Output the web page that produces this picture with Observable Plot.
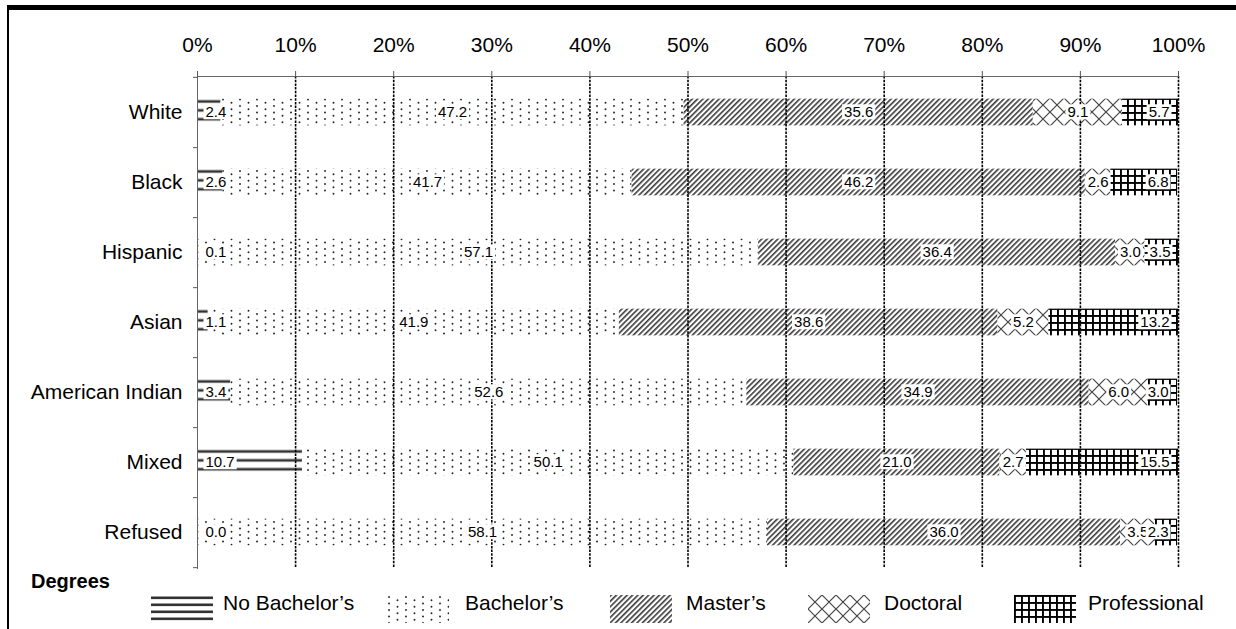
<!DOCTYPE html>
<html><head><meta charset="utf-8">
<script src="https://cdn.jsdelivr.net/npm/d3@7"></script>
<script src="https://cdn.jsdelivr.net/npm/@observablehq/plot@0.6"></script>
<style>
body{margin:0;background:#fff;font-family:"Liberation Sans",Arial,sans-serif;}
#wrap{position:relative;width:1236px;height:629px;overflow:hidden;background:#fff;}
#chart{position:absolute;left:0;top:0;}
#legend{position:absolute;left:0;top:570px;width:1236px;height:59px;}
#legend .title{position:absolute;left:31px;top:1px;font-size:20px;line-height:20px;font-weight:bold;}
#legend .sw{position:absolute;top:25px;width:62px;height:28px;}
#legend .lab{position:absolute;top:22px;font-size:21px;line-height:21px;white-space:nowrap;}
.bt{position:absolute;left:7px;top:5px;width:1229px;height:5px;background:#000;z-index:10;}
.bl{position:absolute;left:7px;top:5px;width:2px;height:624px;background:#000;z-index:10;}
</style></head><body>
<div id="wrap">
<svg width="0" height="0" style="position:absolute">
<defs>
<pattern id="pNB" patternUnits="objectBoundingBox" x="0" y="0" width="1" height="0.3333">
<rect x="0" y="0" width="3000" height="40" fill="#fff"/>
<rect x="0" y="1.5" width="3000" height="2.6" fill="#333"/>
</pattern>
<pattern id="pNBL" patternUnits="objectBoundingBox" x="0" y="0" width="1" height="0.25">
<rect x="0" y="0" width="3000" height="40" fill="#fff"/>
<rect x="0" y="1.5" width="3000" height="2.6" fill="#333"/>
</pattern>
<pattern id="pBA" patternUnits="userSpaceOnUse" width="17" height="13">
<rect width="17" height="13" fill="#fff"/>
<circle cx="2" cy="2" r="0.95" fill="#222"/>
<circle cx="2" cy="8.5" r="0.95" fill="#222"/>
<circle cx="10.5" cy="5.25" r="0.95" fill="#222"/>
<circle cx="10.5" cy="11.75" r="0.95" fill="#222"/>
</pattern>
<pattern id="pMA" patternUnits="userSpaceOnUse" width="3.8" height="3.8" patternTransform="rotate(45)">
<rect width="3.8" height="3.8" fill="#fff"/>
<rect x="0" y="0" width="1.6" height="3.8" fill="#3a3a3a"/>
</pattern>
<pattern id="pDO" patternUnits="userSpaceOnUse" width="14" height="14">
<rect width="14" height="14" fill="#fff"/>
<path d="M0,0L14,14M14,0L0,14M-1,13L1,15M13,-1L15,1" stroke="#444" stroke-width="1.2" fill="none"/>
</pattern>
<pattern id="pPR" patternUnits="userSpaceOnUse" width="7" height="7">
<rect width="7" height="7" fill="#fff"/>
<rect x="0" y="0" width="7" height="1.9" fill="#000"/>
<rect x="0" y="0" width="1.9" height="7" fill="#000"/>
</pattern>
</defs>
</svg>
<div id="chart"></div>
<div id="legend"></div>
<div class="bt"></div><div class="bl"></div>
</div>
<script>
const races = ["White", "Black", "Hispanic", "Asian", "American Indian", "Mixed", "Refused"];
const degrees = ["No Bachelor’s", "Bachelor’s", "Master’s", "Doctoral", "Professional"];
const noBachelors = [2.4, 2.6, 0.1, 1.1, 3.4, 10.7, 0.0];
const bachelors = [47.2, 41.7, 57.1, 41.9, 52.6, 50.1, 58.1];
const masters = [35.6, 46.2, 36.4, 38.6, 34.9, 21.0, 36.0];
const doctoral = [9.1, 2.6, 3.0, 5.2, 6.0, 2.7, 3.5];
const professional = [5.7, 6.8, 3.5, 13.2, 3.0, 15.5, 2.3];
const xTicks = [0, 10, 20, 30, 40, 50, 60, 70, 80, 90, 100];
const patternUrls = ["url(#pNB)", "url(#pBA)", "url(#pMA)", "url(#pDO)", "url(#pPR)"];
const legendUrls = ["url(#pNBL)", "url(#pBA)", "url(#pMA)", "url(#pDO)", "url(#pPR)"];

const series = [noBachelors, bachelors, masters, doctoral, professional];
const rows = [];
races.forEach((r, i) => {
  let s = 0;
  degrees.forEach((d, j) => {
    const v = series[j][i];
    rows.push({race: r, degree: d, value: v, start: s, end: s + v});
    s += v;
  });
});

const W = 1236, H = 570, mt = 76, mb = 2, ml = 197, mr = 58;
const bw = (H - mt - mb) / races.length;
const inset = (bw - 27) / 2;
const FONT = '"Liberation Sans", Arial, sans-serif';
const lab = d => d.value.toFixed(1);

const plot = Plot.plot({
  width: W, height: H,
  marginTop: mt, marginBottom: mb, marginLeft: ml, marginRight: mr,
  style: {fontFamily: FONT, fontSize: "14px", color: "#000", background: "transparent", overflow: "visible"},
  x: {domain: [0, 100]},
  y: {domain: races, padding: 0},
  color: {domain: degrees, range: patternUrls},
  marks: [
    Plot.barX(rows, Plot.stackX({x: "value", y: "race", fill: "degree", insetTop: inset, insetBottom: inset})),
    Plot.ruleX(xTicks.slice(1), {stroke: "#000", strokeWidth: 1.6, strokeDasharray: "2.5,1.2"}),
    Plot.frame({anchor: "top", stroke: "#666"}),
    Plot.frame({anchor: "left", stroke: "#666"}),
    Plot.axisX({anchor: "top", ticks: xTicks, tickFormat: d => d + "%", tickSize: 6, tickPadding: 19, fontSize: 21, stroke: "#555", fill: "#000", label: null}),
    Plot.axisY({anchor: "left", tickSize: 0, tickPadding: 15, fontSize: 21, fill: "#000", label: null}),
    Plot.axisY({anchor: "left", tickSize: 4, tickFormat: () => "", dy: bw / 2, stroke: "#555", label: null}),
    Plot.axisY({anchor: "left", ticks: [races[0]], tickSize: 4, tickFormat: () => "", dy: -bw / 2, stroke: "#555", label: null}),
    Plot.text(rows.filter(d => d.degree === degrees[0]), {x: "start", y: "race", text: lab, textAnchor: "start", dx: 8, fontSize: 15, fill: "#000"}),
    Plot.text(rows.filter(d => d.degree !== degrees[0] && d.degree !== degrees[4]), {x: d => (d.start + d.end) / 2, y: "race", text: lab, fontSize: 15, fill: "#000"}),
    Plot.text(rows.filter(d => d.degree === degrees[4]), {x: "end", y: "race", text: lab, textAnchor: "end", dx: -9, fontSize: 15, fill: "#000"})
  ]
});
document.getElementById("chart").appendChild(plot);

// white boxes behind the data labels
const NS = "http://www.w3.org/2000/svg";
const labelTexts = Array.from(plot.querySelectorAll("text")).filter(t => {
  const g = t.parentNode;
  const a = g && g.getAttribute ? (g.getAttribute("aria-label") || "") : "";
  return a === "text";
});
labelTexts.forEach(t => {
  const b = t.getBBox();
  const r = document.createElementNS(NS, "rect");
  r.setAttribute("x", b.x - 2);
  r.setAttribute("y", b.y + 1);
  r.setAttribute("width", b.width + 4);
  r.setAttribute("height", Math.max(0, b.height - 2));
  r.setAttribute("fill", "#fff");
  const tr = t.getAttribute("transform");
  if (tr) r.setAttribute("transform", tr);
  t.parentNode.insertBefore(r, t);
});

// legend
const legend = document.getElementById("legend");
const title = document.createElement("div");
title.className = "title";
title.textContent = "Degrees";
legend.appendChild(title);
const swX = [151, 387, 610, 808, 1014];
const labX = [223, 465, 686, 884, 1088];
degrees.forEach((d, j) => {
  const sw = document.createElementNS(NS, "svg");
  sw.setAttribute("class", "sw");
  sw.setAttribute("width", 62); sw.setAttribute("height", 28);
  sw.style.left = swX[j] + "px";
  const rc = document.createElementNS(NS, "rect");
  rc.setAttribute("width", 62); rc.setAttribute("height", 28);
  rc.setAttribute("fill", legendUrls[j]);
  sw.appendChild(rc);
  legend.appendChild(sw);
  const lb = document.createElement("div");
  lb.className = "lab";
  lb.style.left = labX[j] + "px";
  lb.textContent = d;
  legend.appendChild(lb);
});
</script>
</body></html>
